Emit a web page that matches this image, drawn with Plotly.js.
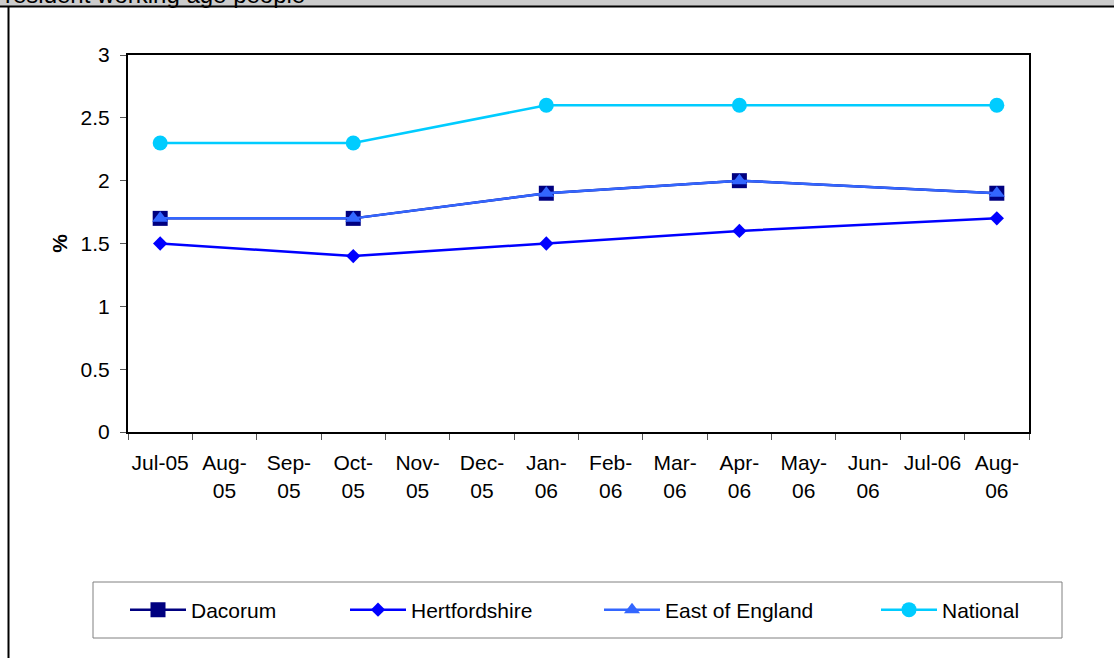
<!DOCTYPE html>
<html>
<head>
<meta charset="utf-8">
<script src="https://cdn.plot.ly/plotly-3.0.1.min.js"></script>
<style>
  html, body { margin: 0; padding: 0; background: #ffffff; }
  #chart { width: 1114px; height: 658px; }
</style>
</head>
<body>
<div id="chart"></div>
<script>
// ---- data ----
var categories = ["Jul-05","Aug-05","Sep-05","Oct-05","Nov-05","Dec-05","Jan-06","Feb-06","Mar-06","Apr-06","May-06","Jun-06","Jul-06","Aug-06"];
var tickLabels = ["Jul-05","Aug-<br>05","Sep-<br>05","Oct-<br>05","Nov-<br>05","Dec-<br>05","Jan-<br>06","Feb-<br>06","Mar-<br>06","Apr-<br>06","May-<br>06","Jun-<br>06","Jul-06","Aug-<br>06"];
var sampleMonths = ["Jul-05","Oct-05","Jan-06","Apr-06","Aug-06"];
var dacorum       = [1.7, 1.7, 1.9, 2.0, 1.9];
var hertfordshire = [1.5, 1.4, 1.5, 1.6, 1.7];
var eastOfEngland = [1.7, 1.7, 1.9, 2.0, 1.9];
var national      = [2.3, 2.3, 2.6, 2.6, 2.6];
var yTicks = [0, 0.5, 1, 1.5, 2, 2.5, 3];
var yTickLabels = ["0", "0.5", "1", "1.5", "2", "2.5", "3"];
var headerText = "resident working age people";
var yTitle = "%";

// ---- geometry helpers (plot area in pixels) ----
var W = 1114, H = 658;
var L = 128, R = 1029, T = 55, B = 432;
function px(x) { return (x - L) / (R - L); }
function py(y) { return (B - y) / (B - T); }

var FONT = "Arial, 'Liberation Sans', sans-serif";
var FS = 21;

function tr(name, y, color, symbol, size, legendId) {
  return {
    type: "scatter", mode: "lines+markers", name: name,
    x: sampleMonths, y: y,
    line: { color: color, width: 2.5 },
    marker: { color: color, symbol: symbol, size: size, line: { width: 0 } },
    legend: legendId, cliponaxis: false
  };
}

var traces = [
  tr("Dacorum", dacorum, "#000080", "square", 15, "legend"),
  tr("Hertfordshire", hertfordshire, "#0000FF", "diamond", 11, "legend2"),
  tr("East of England", eastOfEngland, "#3366FF", "triangle-up", 14, "legend3"),
  tr("National", national, "#00CCFF", "circle", 15, "legend4")
];

function leg(xpix) {
  return {
    x: px(xpix), xanchor: "left", y: py(610), yanchor: "middle",
    orientation: "h", bgcolor: "rgba(0,0,0,0)", borderwidth: 0,
    font: { family: FONT, size: FS, color: "#000" },
    itemwidth: 56, itemclick: false, itemdoubleclick: false
  };
}

var layout = {
  width: W, height: H,
  margin: { l: L, r: W - R, t: T, b: H - B, pad: 0 },
  paper_bgcolor: "#ffffff", plot_bgcolor: "#ffffff",
  font: { family: FONT, size: FS, color: "#000" },
  showlegend: true,
  legend: leg(125),
  legend2: leg(345),
  legend3: leg(599),
  legend4: leg(876),
  xaxis: {
    type: "category", categoryorder: "array", categoryarray: categories,
    tickmode: "array", tickvals: categories, ticktext: tickLabels,
    range: [-0.5, 13.5], tickson: "boundaries", tickangle: 0,
    ticks: "outside", ticklen: 6, tickwidth: 1, tickcolor: "#555",
    ticklabelstandoff: 11,
    showline: true, linecolor: "#000", linewidth: 2, mirror: true,
    showgrid: false, zeroline: false, fixedrange: true,
    tickfont: { family: FONT, size: FS, color: "#000" }, automargin: false
  },
  yaxis: {
    range: [0, 3], tickmode: "array", tickvals: yTicks, ticktext: yTickLabels,
    ticks: "outside", ticklen: 6, tickwidth: 1, tickcolor: "#555",
    ticklabelstandoff: 6,
    showline: true, linecolor: "#000", linewidth: 2, mirror: true,
    showgrid: false, zeroline: false, fixedrange: true,
    tickfont: { family: FONT, size: FS, color: "#000" }, automargin: false,
    title: { text: "<b>" + yTitle + "</b>", font: { family: FONT, size: FS, color: "#000" }, standoff: 7 }
  },
  shapes: [
    { type: "rect", xref: "paper", yref: "paper", layer: "below",
      x0: px(0), x1: px(W), y0: py(7), y1: py(0), fillcolor: "#cccccc", line: { width: 0 } },
    { type: "line", xref: "paper", yref: "paper",
      x0: px(0), x1: px(W), y0: py(6.5), y1: py(6.5), line: { color: "#000", width: 2 } },
    { type: "line", xref: "paper", yref: "paper",
      x0: px(8.5), x1: px(8.5), y0: py(6), y1: py(H), line: { color: "#000", width: 2 } },
    { type: "rect", xref: "paper", yref: "paper", layer: "below",
      x0: px(93), x1: px(1062), y0: py(638), y1: py(582), fillcolor: "rgba(0,0,0,0)", line: { color: "#808080", width: 1 } }
  ],
  annotations: [
    { text: headerText, xref: "paper", yref: "paper", x: px(3), xanchor: "left",
      y: py(-5.8), yanchor: "middle", showarrow: false,
      font: { family: FONT, size: 24, color: "#000" } }
  ]
};

Plotly.newPlot("chart", traces, layout, { displayModeBar: false, staticPlot: true });
</script>
</body>
</html>
